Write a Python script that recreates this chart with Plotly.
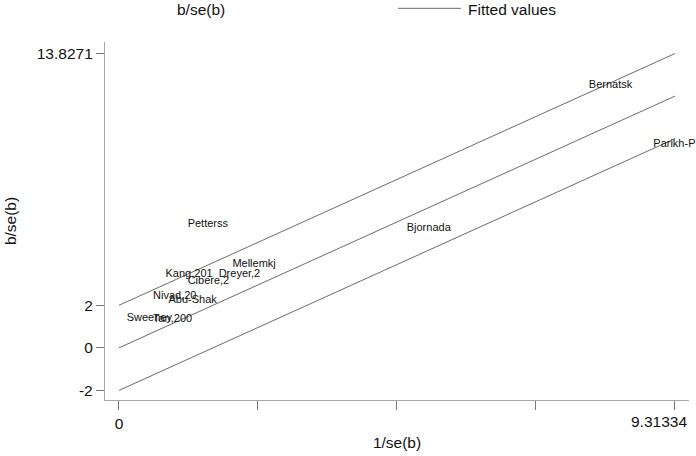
import plotly.graph_objects as go

# Study labels and Galbraith coordinates (1/se(b), b/se(b))
studies = ["Petterss", "Mellemkj", "Kang,201", "Dreyer,2", "Cibere,2", "Nivad,20",
           "Abu-Shak", "Sweeney", "Tan,200", "Bjornada", "Bernatsk", "Parikh-P"]
inv_se = [1.15, 1.90, 0.78, 1.67, 1.15, 0.57, 0.83, 0.13, 0.57, 4.82, 7.87, 8.95]
b_over_se = [5.80, 3.94, 3.44, 3.44, 3.13, 2.44, 2.26, 1.40, 1.36, 5.62, 12.33, 9.56]

# Fitted lines (endpoints at x = 0 and x = max)
fit_x = [0, 9.31334]
fit_upper = [2, 13.8271]
fit_mid = [0, 11.8271]
fit_lower = [-2, 9.8271]

xmax = 9.31334
x_ticks = [0, xmax / 4, xmax / 2, 3 * xmax / 4, xmax]
x_ticktext = ["0", "", "", "", ""]
y_ticks = [-2, 0, 2, 13.8271]
y_ticktext = ["-2", "0", "2", "13.8271"]

FONT = "Liberation Sans, Arial, sans-serif"
LINE_COLOR = "#5a5a5a"

fig = go.Figure()
for ys in (fit_upper, fit_mid, fit_lower):
    fig.add_trace(go.Scatter(x=fit_x, y=ys, mode="lines",
                             line=dict(color=LINE_COLOR, width=0.9),
                             showlegend=False, hoverinfo="skip"))

fig.add_trace(go.Scatter(x=inv_se, y=b_over_se, mode="text", text=studies,
                         textposition="middle right", cliponaxis=False,
                         textfont=dict(family=FONT, size=11, color="#111111"),
                         showlegend=False))

fig.update_layout(
    width=696, height=456,
    margin=dict(l=105, r=7, t=42, b=42),
    paper_bgcolor="white", plot_bgcolor="white",
    font=dict(family=FONT, size=15.5, color="#111111"),
    showlegend=False,
)
fig.update_xaxes(range=[-0.234, 9.548], tickvals=x_ticks, ticktext=x_ticktext,
                 showgrid=False, zeroline=False, showline=True,
                 linecolor="#a8a8a8", linewidth=1.3,
                 ticks="outside", ticklen=9, tickcolor="#777777", tickwidth=1,
                 tickfont=dict(size=15.5),
                 title=dict(text="1/se(b)", font=dict(size=15.5), standoff=6))
fig.update_yaxes(range=[-2.45, 14.37], tickvals=y_ticks, ticktext=y_ticktext,
                 showgrid=False, zeroline=False, showline=True,
                 linecolor="#a8a8a8", linewidth=1.3,
                 ticks="outside", ticklen=8, tickcolor="#777777", tickwidth=1,
                 tickfont=dict(size=15.5),
                 title=dict(text="b/se(b)", font=dict(size=15.5), standoff=16))

# right-aligned max tick label as in the reference
fig.add_annotation(xref="paper", yref="paper", x=1.0, y=0, yshift=-11,
                   text="9.31334", showarrow=False, xanchor="right", yanchor="top",
                   font=dict(size=15.5, family=FONT, color="#111111"))

# manual legend at top
fig.add_annotation(xref="paper", yref="paper", x=(175 - 105) / 584, y=(414 - 8) / 372,
                   text="b/se(b)", showarrow=False, xanchor="left", yanchor="middle",
                   font=dict(size=15.5, family=FONT, color="#111111"))
fig.add_shape(type="line", xref="paper", yref="paper",
              x0=(398 - 105) / 584, x1=(461 - 105) / 584,
              y0=(414 - 7) / 372, y1=(414 - 7) / 372,
              line=dict(color=LINE_COLOR, width=0.9))
fig.add_annotation(xref="paper", yref="paper", x=(466 - 105) / 584, y=(414 - 8) / 372,
                   text="Fitted values", showarrow=False, xanchor="left", yanchor="middle",
                   font=dict(size=15.5, family=FONT, color="#111111"))

fig.write_html("out.html", config={"displayModeBar": False},
               post_script="document.body.style.margin='0';document.body.style.overflow='hidden';")
